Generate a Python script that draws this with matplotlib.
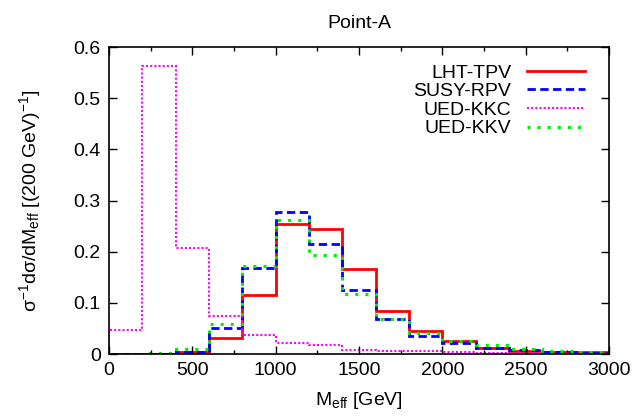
import numpy as np
import matplotlib
matplotlib.use('Agg')
import matplotlib.pyplot as plt
from matplotlib.ticker import MultipleLocator

plt.rcParams['font.family'] = ['Liberation Sans', 'DejaVu Sans']
plt.rcParams['mathtext.default'] = 'regular'

# bin edges in GeV (200 GeV bins)
edges = np.arange(0, 3001, 200)

lht_tpv = [0.001, 0.001, 0.003, 0.032, 0.115, 0.254, 0.244, 0.166, 0.085,
           0.045, 0.026, 0.011, 0.0065, 0.004, 0.003]
susy_rpv = [0.001, 0.001, 0.0045, 0.050, 0.169, 0.278, 0.216, 0.125, 0.068,
            0.036, 0.021, 0.011, 0.007, 0.004, 0.002]
ued_kkc = [0.047, 0.564, 0.208, 0.074, 0.037, 0.022, 0.018, 0.007, 0.006,
           0.006, 0.003, 0.002, 0.002, 0.001, 0.001]
ued_kkv = [0.001, 0.002, 0.010, 0.059, 0.172, 0.263, 0.193, 0.117, 0.068,
           0.042, 0.026, 0.018, 0.009, 0.006, 0.003]

fig = plt.figure(figsize=(6.38, 4.17), dpi=100)
ax = fig.add_axes([0.1708, 0.151, 0.7837, 0.736])

ax.stairs(lht_tpv, edges, color='#ff0000', lw=2, ls='-', label='LHT-TPV')
ax.stairs(susy_rpv, edges, color='#0000ff', lw=2, ls=(0, (3, 1.6)), label='SUSY-RPV')
ax.stairs(ued_kkc, edges, color='#ff00ff', lw=1.5, ls=(0, (1, 1)), label='UED-KKC')
ax.stairs(ued_kkv, edges, color='#00ee00', lw=2.2, ls=(0, (1, 2.3)), label='UED-KKV')

ax.set_xlim(0, 3000)
ax.set_ylim(0, 0.6)
ax.xaxis.set_major_locator(MultipleLocator(500))
ax.xaxis.set_minor_locator(MultipleLocator(250))
ax.yaxis.set_major_locator(MultipleLocator(0.1))
ax.tick_params(which='both', direction='in', top=True, right=True, labelsize=14)
ax.tick_params(which='major', length=6, width=1, pad=6)
ax.tick_params(which='minor', length=3, width=1)
for s in ax.spines.values():
    s.set_linewidth(1.2)

ax.yaxis.set_major_formatter(plt.FuncFormatter(lambda v, p: '0' if v == 0 else '%.1f' % v))

ax.set_title('Point-A', fontsize=14, pad=14)
ax.set_xlabel(r'M$_{eff}$ [GeV]', fontsize=14, labelpad=8)
ax.set_ylabel(r'$\sigma^{-1}$d$\sigma$/dM$_{eff}$ [(200 GeV)$^{-1}$]', fontsize=14,
              labelpad=22)

ax.legend(loc='upper right', bbox_to_anchor=(0.952, 0.945), frameon=False,
          fontsize=14, markerfirst=False, handlelength=3.0, labelspacing=0.05,
          borderaxespad=0, borderpad=0, handletextpad=0.8)

fig.savefig('out.png', dpi=100)
